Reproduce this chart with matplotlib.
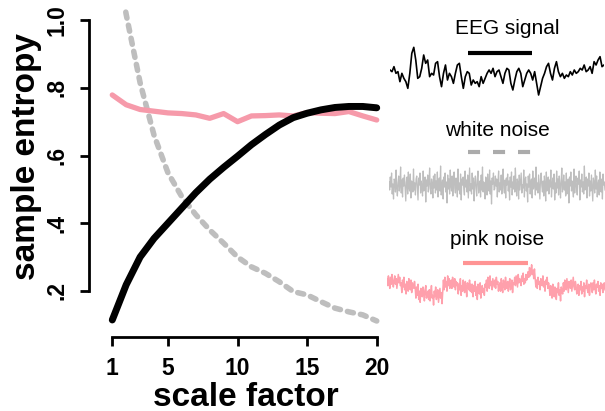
import numpy as np
import matplotlib
matplotlib.use("Agg")
import matplotlib.pyplot as plt
from matplotlib.lines import Line2D

plt.rcParams['font.family'] = ['Liberation Sans', 'DejaVu Sans']

# ---------------- data ----------------
scale_factor = list(range(1, 21))
eeg_mse = [0.114, 0.218, 0.300, 0.355, 0.400, 0.445, 0.490, 0.530, 0.565, 0.598,
           0.632, 0.662, 0.690, 0.712, 0.725, 0.735, 0.742, 0.745, 0.745, 0.741]
white_mse = [1.25, 1.017, 0.815, 0.660, 0.549, 0.478, 0.425, 0.380, 0.341, 0.300,
             0.271, 0.252, 0.227, 0.198, 0.188, 0.168, 0.149, 0.138, 0.129, 0.111]
pink_mse = [0.779, 0.750, 0.736, 0.731, 0.726, 0.724, 0.720, 0.710, 0.724, 0.700,
            0.717, 0.718, 0.720, 0.717, 0.727, 0.725, 0.724, 0.730, 0.717, 0.705]

xticks = [1, 5, 10, 15, 20]
yticks = [0.2, 0.4, 0.6, 0.8, 1.0]
yticklabels = ['.2', '.4', '.6', '.8', '1.0']

# example signal traces (readings)
eeg_signal = [90, 95, 80, 100, 95, 125, 100, 115, 125, 145, 100, 40, 22, 60, 115, 110, 85, 45,
              70, 60, 110, 100, 105, 70, 65, 110, 140, 100, 75, 120, 100, 110, 130, 100, 75, 70,
              110, 145, 110, 95, 100, 135, 120, 130, 125, 140, 110, 130, 115, 100, 90, 100, 85,
              110, 95, 90, 110, 130, 100, 85, 90, 130, 150, 120, 95, 85, 100, 140, 120, 100, 90,
              100, 120, 95, 130, 165, 140, 115, 100, 80, 70, 100, 120, 85, 65, 95, 110, 100, 115,
              105, 110, 95, 105, 90, 100, 95, 85, 90, 75, 95, 90, 80, 100, 65, 75, 60, 50, 80, 75]
white_noise = [3, -5, 8, -2, 12, -9, 1, -14, 6, 4, -7, 15, -3, -11, 2, 9, -6, 0, 18, -8, 5, -12,
               7, -1, 10, -4, -16, 3, 8, -9, 13, -2, -6, 11, -13, 4, 1, -7, 16, -5, 2, -10, 6, 9,
               -3, -15, 7, 0, 12, -8, 4, -2, -11, 14, -6, 3, 8, -17, 5, -1, 10, -7, 2, 17, -4, -9,
               6, 1, -13, 9, -3, 11, -8, 4, -5, 13, -12, 2, 7, -6, 19, -10, 0, 5, -14, 8, -2, 12,
               -7, 3, -18, 10, -4, 6, -9, 15, -1, -6, 9, -11, 4, 13, -3, -8, 7, 1, -12, 16, -5, 2,
               -9, 11, -15, 6, 0, 8, -4, -10, 14, -2, 5, -7, 10, -13, 3, 17, -6, 1, -9, 12, -4, 7,
               -16, 2, 9, -3, -11, 6, 14, -8, 0, 4, -12, 10, -5, 18, -7, 3, -1, -14, 8, 5, -10, 11,
               -2, -6, 15, -9, 4, -19, 7, 1, 12, -5,
               -4, 9, -1, 6, -12, 3, 14, -7, 2, -5, 10, -9, 1, 16, -3, -8, 5, -13, 7, 0, 11, -6,
               4, -15, 8, -2, 13, -10, 3, -4, 9, -7, 17, -1, -11, 6, 2, -14, 10, -5, 4, 12, -8, 0,
               -3, 15, -12, 5, 8, -6, 1, -17, 9, -2, 11, -9, 3, 6, -13, 14, -4, 0, 7, -10, 18, -5,
               2, -8, 10, -3, -14, 6, 12, -1, -7, 4, -11, 9, 1, -16, 13, -6, 3, 8, -9, 5, -2, 15,
               -12, 0, 7, -4, 11, -15, 2, -8, 14, -3, 6, -10, 9, 1, -13, 4, 17, -7, -2, 10, -5, 3,
               -11, 12, -9, 0, 6, -18, 8, -1, 13, -6, 4, -3, -12, 16, -8, 2, 9, -4, -10, 7, 1, 14,
               -15, 5, -2, 11, -7, 3, -9, 19, -5, 0, 8, -13, 6, -1, 12, -11, 4, -6, 10, -3, -16, 7,
               2, -8, 15, -4, 9, -12, 1, 5, -10, 13, -2, -7, 6, -14, 11, 0, 3, -5]
pink_noise = [6, 1, 8, 3, -1, 7, 2, 9, 4, 0, 5, 8, 2, 6, -1, 4, 9, 3, 7, 1,
              3, -4, 5, 0, 7, -2, 2, -5, 4, 1, -3, 6, 0, -2, 5, -4, 3, 1, -1, 4,
              -1, -8, 0, -6, 2, -9, -3, -11, -1, -5, -7, 0, -4, -10, -2, 1, -8, -5, -3, -9,
              -2, -10, -4, 1, -8, -6, -13, -3, -7, 0, -9, -5, -2, -11, -6, -1, -8, -4, -12, -3,
              5, -2, 7, 0, 4, -3, 8, 1, 6, -1, 3, 5, -1, 7, 2, 0, 6, -2, 4, 1,
              3, -5, 2, -2, 6, -6, 1, -3, 5, -1, -4, 4, 0, -7, 3, 1, -2, 5, -3, 2,
              -4, 2, -7, 1, -3, 4, -6, 0, -9, 2, -2, -5, 3, -8, 0, 1, -4, -1, -6, 2,
              0, 5, -3, 7, 2, -1, 8, 1, 4, -2, 6, 3, 0, 5, -1, 7, 2, 4, -3, 1,
              3, -3, 6, 0, -4, 5, 2, -2, 7, 1, -1, 4, -3, 2, 6, -2, 0, 5, -4, 3,
              2, 7, 1, 8, 4, 0, 9, 3, 6, 5, 1, 8, 4, 10, 2, 6, 3, 9, 5, 7,
              11, 7, 14, 8, 10, 16, 9, 12, 6, 13,
              6, 0, 5, -1, 7, 2, 4, -2, 6, 3, 1, 8, 0, 4, -3, 5, 2, 7, -1, 3,
              0, -6, 1, -4, -8, 2, -3, -7, 0, -5, -9, -1, -4, 3, -6, -2, -10, 0, -3, -5,
              3, -3, 5, 0, -2, 6, 1, -4, 4, 2, -1, 5, -3, 2, 7, 0, -2, 4, 1, -5,
              -3, 2, -6, 1, -2, 4, -5, 0, -3, 3, -7, 1, -1, 5, -2, -4, 2, -6, 0, 3,
              1, -4, 3, -2, 5, -1, -5, 2, 0, 4, -3, 1, -6, 3, -1, 2, -4, 0, 3, -2]

# ---------------- style ----------------
W, H = 605, 411
BLACK = '#000000'
GRAY = '#BEBEBE'
PINK = '#F69AAA'
PINK_TRACE = '#FFA0AC'
PINK_LEG = '#FF9494'

fig = plt.figure(figsize=(W / 100, H / 100), dpi=100)

def fx(px):
    return px / W

def fy(py):
    return 1 - py / H

# main axes
left, right, top, bottom = 101.7, 387.3, 8.0, 333.5
ax = fig.add_axes([fx(left), fy(bottom), fx(right - left), (bottom - top) / H])
ax.plot(scale_factor, white_mse, color=GRAY, lw=4.0, dashes=(1.1, 1.3),
        dash_capstyle='round', zorder=2)
ax.plot(scale_factor, pink_mse, color=PINK, lw=3.8, solid_capstyle='round', zorder=3)
ax.plot(scale_factor, eeg_mse, color=BLACK, lw=5.0, solid_capstyle='round', zorder=4)

ax.set_xlim(0.24, 20.76)
ax.set_ylim(0.074, 1.036)
for s in ['top', 'right']:
    ax.spines[s].set_visible(False)
ax.spines['left'].set_position(('outward', 9.1))
ax.spines['bottom'].set_position(('outward', 2.5))
ax.spines['left'].set_bounds(0.2, 1.0)
ax.spines['bottom'].set_bounds(1, 20)
for s in ['left', 'bottom']:
    ax.spines[s].set_linewidth(2.0)
ax.set_xticks(xticks)
ax.set_xticklabels([str(v) for v in xticks])
ax.set_yticks(yticks)
ax.set_yticklabels(yticklabels, rotation=90, va='center')
ax.tick_params(axis='both', length=6.5, width=2.0, labelsize=16.5, pad=8)
for lab in ax.get_xticklabels() + ax.get_yticklabels():
    lab.set_fontweight('bold')

fig.text(fx(246), fy(397), 'scale factor', fontsize=24, fontweight='bold',
         ha='center', va='center')
fig.text(fx(27), fy(156), 'sample entropy', fontsize=24, fontweight='bold',
         ha='center', va='center', rotation=90)

# right-hand example traces
ax_e = fig.add_axes([fx(390), fy(100), fx(604 - 390), 60 / H])
ax_e.plot(range(len(eeg_signal)), eeg_signal, color=BLACK, lw=1.2)
ax_e.set_xlim(0, len(eeg_signal) - 1)
ax_e.set_ylim(180, 0)
ax_e.axis('off')

ax_w = fig.add_axes([fx(389), fy(210), fx(605 - 389), 50 / H])
ax_w.plot(range(len(white_noise)), white_noise, color=GRAY, lw=0.9)
ax_w.set_xlim(0, len(white_noise) - 1)
ax_w.set_ylim(-25, 25)
ax_w.axis('off')

ax_p = fig.add_axes([fx(387), fy(312), fx(605 - 387), 50 / H])
ax_p.plot(range(len(pink_noise)), pink_noise, color=PINK_TRACE, lw=1.1)
ax_p.set_xlim(0, len(pink_noise) - 1)
ax_p.set_ylim(-18, 18)
ax_p.axis('off')

# labels and key lines
fig.text(fx(507), fy(29), 'EEG signal', fontsize=15, ha='center', va='center')
fig.text(fx(497), fy(130), 'white noise', fontsize=15, ha='center', va='center')
fig.text(fx(497), fy(239), 'pink noise', fontsize=15, ha='center', va='center')

fig.add_artist(Line2D([fx(468), fx(532)], [fy(53), fy(53)], color=BLACK, lw=3.0,
                      solid_capstyle='butt', transform=fig.transFigure))
fig.add_artist(Line2D([fx(468), fx(532)], [fy(152), fy(152)], color='#ABABAB', lw=3.0,
                      dashes=(2.9, 3.1), dash_capstyle='butt', transform=fig.transFigure))
fig.add_artist(Line2D([fx(463), fx(528)], [fy(263), fy(263)], color=PINK_LEG, lw=3.0,
                      solid_capstyle='butt', transform=fig.transFigure))

fig.savefig('out.png', dpi=100)
